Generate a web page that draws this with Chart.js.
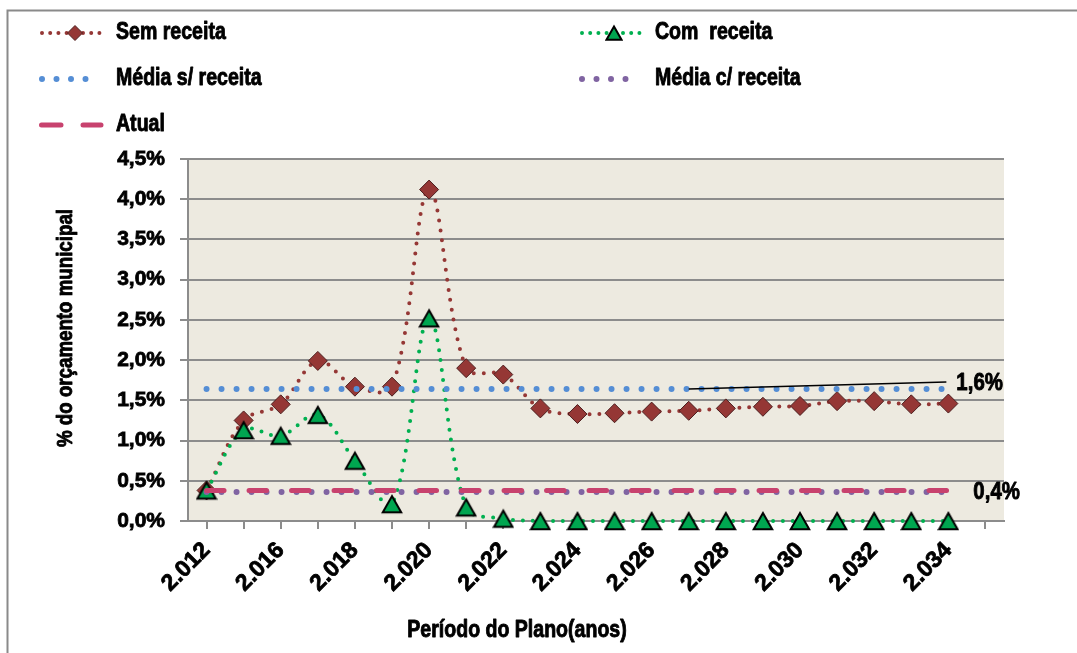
<!DOCTYPE html>
<html lang="pt">
<head>
<meta charset="utf-8">
<title>% do orçamento municipal</title>
<script src="https://cdn.jsdelivr.net/npm/chart.js@4.4.1/dist/chart.umd.min.js"></script>
<style>
  html, body { margin: 0; padding: 0; background: #fff; }
  canvas { display: block; }
</style>
</head>
<body>
<canvas id="grafico" width="1077" height="653"></canvas>
<script>
// Anos do plano (só os pares aparecem no eixo)
const anos = ['2.012', '2.014', '2.016', '2.017', '2.018', '2.019', '2.020', '2.021',
  '2.022', '2.023', '2.024', '2.025', '2.026', '2.027', '2.028', '2.029', '2.030',
  '2.031', '2.032', '2.033', '2.034', '2.035'];

// % do orçamento municipal
const semReceita = [0.38, 1.25, 1.45, 1.99, 1.67, 1.67, 4.12, 1.90, 1.82, 1.40, 1.33,
  1.34, 1.36, 1.37, 1.40, 1.42, 1.43, 1.49, 1.49, 1.45, 1.46];
const comReceita = [0.38, 1.13, 1.06, 1.32, 0.75, 0.21, 2.52, 0.17, 0.03, 0, 0,
  0, 0, 0, 0, 0, 0, 0, 0, 0, 0];
const mediaSemReceita = [1.64, 1.64, 1.64, 1.64, 1.64, 1.64, 1.64, 1.64, 1.64, 1.64, 1.64,
  1.64, 1.64, 1.64, 1.64, 1.64, 1.64, 1.64, 1.64, 1.64, 1.64];
const mediaComReceita = [0.36, 0.36, 0.36, 0.36, 0.36, 0.36, 0.36, 0.36, 0.36, 0.36, 0.36,
  0.36, 0.36, 0.36, 0.36, 0.36, 0.36, 0.36, 0.36, 0.36, 0.36];
const atual = [0.38, 0.38, 0.38, 0.38, 0.38, 0.38, 0.38, 0.38, 0.38, 0.38, 0.38,
  0.38, 0.38, 0.38, 0.38, 0.38, 0.38, 0.38, 0.38, 0.38, 0.38];

const yTicks = [0, 0.5, 1, 1.5, 2, 2.5, 3, 3.5, 4, 4.5];

const FONTE = "'Liberation Sans', Arial, sans-serif";
const CINZA = '#8c8c8c';
const COR_SEM = '#953735';
const COR_COM = '#00B050';
const COR_MEDIA_SEM = '#558ED5';
const COR_MEDIA_COM = '#8064A2';
const COR_ATUAL = '#C8426E';

/**
 * Triângulo verde com contorno preto, centrado pela caixa (como no Excel).
 */
function criarTriangulo(tam) {
  const c = document.createElement('canvas');
  c.width = tam;
  c.height = tam;
  const g = c.getContext('2d');
  g.beginPath();
  g.moveTo(tam / 2, tam * 0.14);
  g.lineTo(tam * 0.92, tam * 0.88);
  g.lineTo(tam * 0.08, tam * 0.88);
  g.closePath();
  g.fillStyle = '#00A650';
  g.fill();
  g.lineWidth = 2;
  g.strokeStyle = '#000';
  g.stroke();
  return c;
}

const triangulo = criarTriangulo(22);
const trianguloLegenda = criarTriangulo(18);

/**
 * Texto em negrito, comprimido na horizontal (imita fonte condensada).
 */
function texto(ctx, s, x, y, tam, alinhar = 'left', giro = 0) {
  ctx.save();
  ctx.font = `bold ${tam}px ${FONTE}`;
  ctx.textBaseline = 'middle';
  ctx.textAlign = alinhar;
  ctx.fillStyle = '#000';
  ctx.strokeStyle = '#000';
  ctx.lineWidth = 0.9;
  ctx.lineJoin = 'round';
  ctx.translate(x, y);
  ctx.rotate(giro);
  ctx.scale(0.85, 1);
  ctx.fillText(s, 0, 0);
  ctx.strokeText(s, 0, 0);
  ctx.restore();
}

// fundo da área do gráfico e moldura externa
const fundo = {
  id: 'fundo',
  beforeDraw(chart) {
    const { ctx, chartArea: a } = chart;
    ctx.save();
    ctx.fillStyle = '#EDEAE0';
    ctx.fillRect(a.left, a.top, a.right - a.left, a.bottom - a.top);
    ctx.strokeStyle = '#8a8a8a';
    ctx.lineWidth = 2;
    ctx.beginPath();
    ctx.moveTo(7.5, chart.height);
    ctx.lineTo(7.5, 10.5);
    ctx.lineTo(chart.width, 10.5);
    ctx.stroke();
    ctx.restore();
  }
};

function linhaPontilhada(ctx, x0, x1, y, cor, largura, passo) {
  ctx.save();
  ctx.strokeStyle = cor;
  ctx.lineWidth = largura;
  ctx.lineCap = 'round';
  ctx.setLineDash([0, passo]);
  ctx.beginPath();
  ctx.moveTo(x0, y);
  ctx.lineTo(x1, y);
  ctx.stroke();
  ctx.restore();
}

// legenda, títulos dos eixos e rótulos 1,6% / 0,4%
const extras = {
  id: 'extras',
  afterDraw(chart) {
    const { ctx } = chart;
    const x = chart.scales.x;
    const y = chart.scales.y;

    // legenda
    linhaPontilhada(ctx, 42, 100, 33, COR_SEM, 4, 8.2);
    ctx.save();
    ctx.beginPath();
    ctx.moveTo(75, 25.5); ctx.lineTo(82.5, 33); ctx.lineTo(75, 40.5); ctx.lineTo(67.5, 33);
    ctx.closePath();
    ctx.fillStyle = COR_SEM;
    ctx.fill();
    ctx.strokeStyle = '#4d1f1f';
    ctx.lineWidth = 1;
    ctx.stroke();
    ctx.restore();
    texto(ctx, 'Sem receita', 116, 33, 23);

    linhaPontilhada(ctx, 582, 647, 33, COR_COM, 4, 8.2);
    ctx.drawImage(trianguloLegenda, 614 - 9, 33 - 9);
    texto(ctx, 'Com  receita', 655, 33, 23);

    linhaPontilhada(ctx, 42, 100, 79, COR_MEDIA_SEM, 6, 14.5);
    texto(ctx, 'Média s/ receita', 116, 79, 23);

    linhaPontilhada(ctx, 582, 640, 79, COR_MEDIA_COM, 6, 14.5);
    texto(ctx, 'Média c/ receita', 655, 79, 23);

    ctx.save();
    ctx.strokeStyle = COR_ATUAL;
    ctx.lineWidth = 5;
    ctx.lineCap = 'round';
    ctx.beginPath();
    ctx.moveTo(41.5, 125); ctx.lineTo(61, 125);
    ctx.moveTo(83, 125); ctx.lineTo(101, 125);
    ctx.stroke();
    ctx.restore();
    texto(ctx, 'Atual', 116, 125, 23);

    // títulos dos eixos
    texto(ctx, 'Período do Plano(anos)', 517, 631, 23, 'center');
    texto(ctx, '% do orçamento municipal', 66, 328, 22, 'center', -Math.PI / 2);

    // rótulos das médias
    const xFim = x.getPixelForValue(semReceita.length - 1);
    const yMedia = y.getPixelForValue(mediaSemReceita[0]);
    ctx.save();
    ctx.strokeStyle = '#000';
    ctx.lineWidth = 1.5;
    ctx.beginPath();
    ctx.moveTo(x.getPixelForValue(13), yMedia);
    ctx.lineTo(xFim - 2, yMedia - 7);
    ctx.stroke();
    ctx.restore();
    texto(ctx, '1,6%', xFim + 8, yMedia - 6, 24);
    texto(ctx, '0,4%', xFim + 25, y.getPixelForValue(atual[0]) + 2, 24);
  }
};

const pontilhado = (cor, largura, passo) => ({
  borderColor: cor,
  borderWidth: largura,
  borderDash: [0, passo],
  borderCapStyle: 'round',
  fill: false,
  clip: false
});

new Chart(document.getElementById('grafico'), {
  type: 'line',
  data: {
    labels: anos,
    datasets: [
      {
        label: 'Atual',
        data: atual,
        borderColor: COR_ATUAL,
        borderWidth: 5,
        borderDash: [17.5, 25],
        borderCapStyle: 'round',
        pointRadius: 0,
        fill: false,
        clip: false,
        order: 0
      },
      {
        label: 'Média c/ receita',
        data: mediaComReceita,
        ...pontilhado(COR_MEDIA_COM, 6, 15),
        pointRadius: 0,
        order: 1
      },
      {
        label: 'Média s/ receita',
        data: mediaSemReceita,
        ...pontilhado(COR_MEDIA_SEM, 6, 15),
        pointRadius: 0,
        order: 2
      },
      {
        label: 'Com  receita',
        data: comReceita,
        ...pontilhado(COR_COM, 4, 10),
        tension: 0.35,
        pointStyle: triangulo,
        pointRadius: 10,
        order: 3
      },
      {
        label: 'Sem receita',
        data: semReceita,
        ...pontilhado(COR_SEM, 4, 10),
        tension: 0.35,
        pointStyle: 'rectRot',
        pointRadius: 9.5,
        pointBackgroundColor: COR_SEM,
        pointBorderColor: '#4d1f1f',
        pointBorderWidth: 1,
        order: 4
      }
    ]
  },
  options: {
    responsive: false,
    animation: false,
    layout: { padding: { top: 159, right: 73, left: 0, bottom: 0 } },
    plugins: {
      legend: { display: false },
      tooltip: { enabled: false }
    },
    scales: {
      x: {
        type: 'category',
        offset: true,
        afterFit(scale) { scale.height = 132; },
        grid: {
          drawOnChartArea: false,
          drawTicks: true,
          tickLength: 8,
          color: CINZA,
          lineWidth: 2
        },
        border: { color: CINZA, width: 2 },
        ticks: {
          autoSkip: false,
          minRotation: 45,
          maxRotation: 45,
          padding: 8,
          color: '#000',
          textStrokeColor: '#000',
          textStrokeWidth: 0.8,
          font: { family: FONTE, size: 23, weight: 'bold' },
          callback: (v, i) => (i % 2 === 0 ? anos[i] : '')
        }
      },
      y: {
        min: 0,
        max: 4.5,
        afterFit(scale) { scale.width = 188; },
        afterBuildTicks(scale) { scale.ticks = yTicks.map(v => ({ value: v })); },
        grid: { color: CINZA, lineWidth: 2, tickLength: 8 },
        border: { color: CINZA, width: 2 },
        ticks: {
          padding: 15,
          color: '#000',
          textStrokeColor: '#000',
          textStrokeWidth: 0.8,
          font: { family: FONTE, size: 21, weight: 'bold' },
          callback: v => v.toFixed(1).replace('.', ',') + '%'
        }
      }
    }
  },
  plugins: [fundo, extras]
});
</script>
</body>
</html>
